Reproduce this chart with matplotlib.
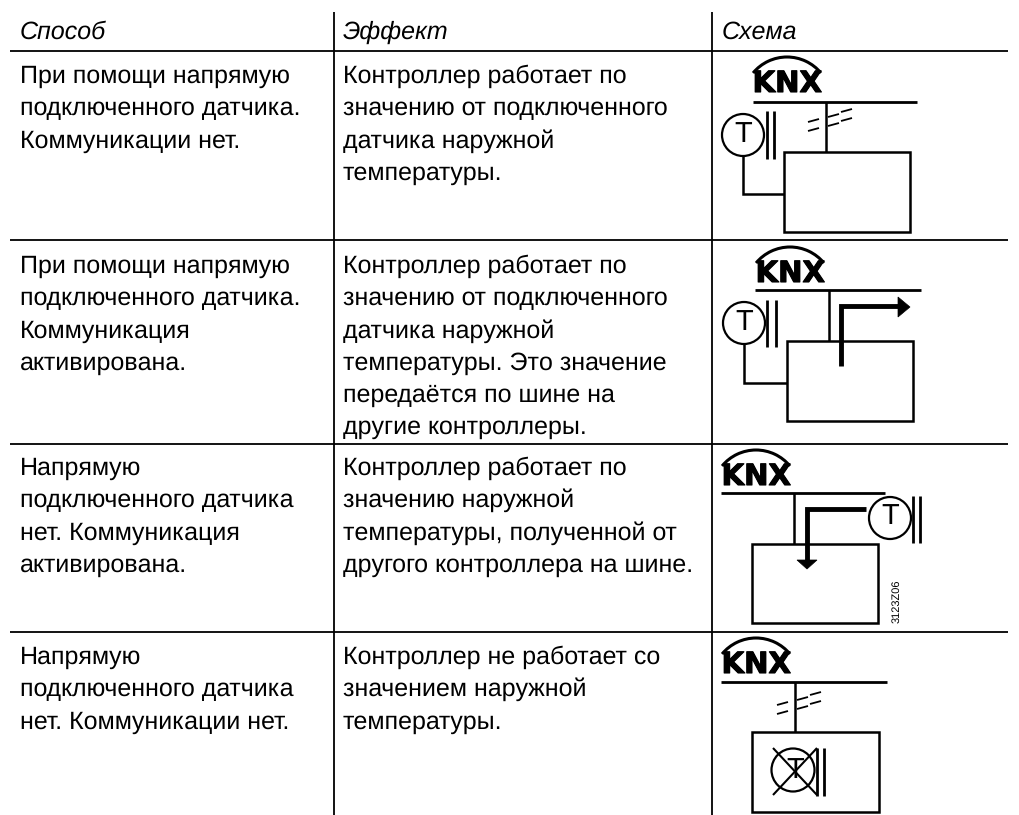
# -*- coding: utf-8 -*-
import numpy as np
import matplotlib
matplotlib.use("Agg")
import matplotlib.pyplot as plt
import matplotlib.patheffects as pe
from matplotlib.patches import Arc, Circle, Rectangle, Polygon

plt.rcParams['font.family'] = ['Liberation Sans', 'DejaVu Sans']
plt.rcParams['text.hinting'] = 'no_hinting'
plt.rcParams['text.hinting_factor'] = 1

# текст таблицы
headers = ["Способ", "Эффект", "Схема"]
col_method = [
    "При помощи напрямую\nподключенного датчика.\nКоммуникации нет.",
    "При помощи напрямую\nподключенного датчика.\nКоммуникация\nактивирована.",
    "Напрямую\nподключенного датчика\nнет. Коммуникация\nактивирована.",
    "Напрямую\nподключенного датчика\nнет. Коммуникации нет.",
]
col_effect = [
    "Контроллер работает по\nзначению от подключенного\nдатчика наружной\nтемпературы.",
    "Контроллер работает по\nзначению от подключенного\nдатчика наружной\nтемпературы. Это значение\nпередаётся по шине на\nдругие контроллеры.",
    "Контроллер работает по\nзначению наружной\nтемпературы, полученной от\nдругого контроллера на шине.",
    "Контроллер не работает со\nзначением наружной\nтемпературы.",
]
row_base = [83, 273, 475, 664]
row_lines = [51, 240, 444, 632]
col_lines = [334, 712]
col_text = [20, 343, 722]
code_label = "3123Z06"

fig = plt.figure(figsize=(10.19, 8.15), dpi=100)
ax = fig.add_axes([0, 0, 1, 1])
ax.set_xlim(0, 1019)
ax.set_ylim(815, 0)
ax.axis("off")

LW = 1.3
FS = 18.35
DY = 32.2


def line(xs, ys, lw=LW):
    ax.plot(xs, ys, color="black", lw=lw, solid_capstyle="butt", solid_joinstyle="miter")


def block(x, y, s):
    for i, part in enumerate(s.split("\n")):
        ax.text(x, y + i * DY, part, fontsize=FS, ha="left", va="baseline", color="black")


def knx(x, y):
    # логотип: дуга и жирные буквы, x, y - левый нижний угол букв
    ax.text(x - 0.5, y, "KNX", fontsize=21, ha="left", va="baseline", color="black",
            family="DejaVu Sans", fontweight="bold",
            path_effects=[pe.withStroke(linewidth=0.8, foreground="black")])
    ax.add_patch(Arc((x + 34, y + 9), 88, 88, theta1=219.5, theta2=320.5, color="black", lw=2.2))


def sensor(x, y):
    # датчик T
    ax.add_patch(Circle((x, y), 21, fill=False, ec="black", lw=1.6))
    ax.text(x, y - 1, "T", fontsize=21, ha="center", va="center", color="black")


def wave(x, y):
    # знак отсутствия связи на линии шины
    for x0, y0 in [(x - 18, y + 1), (x + 2, y - 4), (x + 15, y - 9)]:
        line([x0, x0 + 11], [y0, y0 - 3], lw=1.3)
        line([x0, x0 + 11], [y0 + 9, y0 + 6], lw=1.3)


# заголовки и сетка таблицы
for x, h in zip(col_text, headers):
    ax.text(x, 39, h, fontsize=FS, style="italic", ha="left", va="baseline", color="black")

for y in row_lines:
    line([10.5, 1008], [y, y])
for x in col_lines:
    line([x, x], [12, 815])

for y, a, b in zip(row_base, col_method, col_effect):
    block(col_text[0], y, a)
    block(col_text[1], y, b)

# схема 1
knx(753, 92)
line([753, 917], [102, 102], lw=2)
line([826, 826], [102, 152], lw=1.8)
wave(826, 121)
sensor(743, 135)
line([767, 767], [111, 159], lw=2)
line([774.5, 774.5], [111, 159], lw=2)
line([743, 743, 784], [156, 194, 194], lw=1.8)
ax.add_patch(Rectangle((784, 152), 126, 80, fill=False, ec="black", lw=1.8))

# схема 2
knx(756, 282)
line([755, 921], [290, 290], lw=2)
line([829, 829], [290, 341], lw=1.8)
sensor(744, 323)
line([767, 767], [300, 347], lw=2)
line([776, 776], [300, 347], lw=2)
line([744, 744, 787], [344, 383, 383], lw=1.8)
ax.add_patch(Rectangle((787, 341), 126, 80, fill=False, ec="black", lw=1.8))
line([841, 841, 900], [366, 306, 306], lw=3.5)
ax.add_patch(Polygon([[898, 297], [910, 307], [898, 317]], closed=True, fc="black", ec="black", lw=0.5))

# схема 3
knx(722, 485)
line([721, 885], [493, 493], lw=2)
line([794, 794], [493, 544], lw=1.8)
sensor(890, 518)
line([913, 913], [496, 543], lw=2)
line([920, 920], [496, 543], lw=2)
line([866, 807, 807], [509, 509, 562], lw=3.5)
ax.add_patch(Polygon([[797, 560], [817, 560], [807, 569]], closed=True, fc="black", ec="black", lw=0.5))
ax.add_patch(Rectangle((752, 544), 126, 79, fill=False, ec="black", lw=1.8))
ax.text(897, 601, code_label, fontsize=8.2, rotation=90, ha="center", va="center", color="black")

# схема 4
knx(722, 673)
line([721, 887], [682, 682], lw=2)
line([795, 795], [682, 732], lw=1.8)
wave(795, 704)
ax.add_patch(Rectangle((752, 732), 127, 80, fill=False, ec="black", lw=1.8))
ax.add_patch(Circle((793, 770), 21.5, fill=False, ec="black", lw=1.6))
ax.text(795, 770, "T", fontsize=21, ha="center", va="center", color="black")
line([817, 817], [748, 796], lw=2)
line([824, 824], [748, 796], lw=2)
line([773, 817], [748, 795], lw=1.5)
line([773, 817], [795, 748], lw=1.5)

fig.savefig("out.png", dpi=100)
